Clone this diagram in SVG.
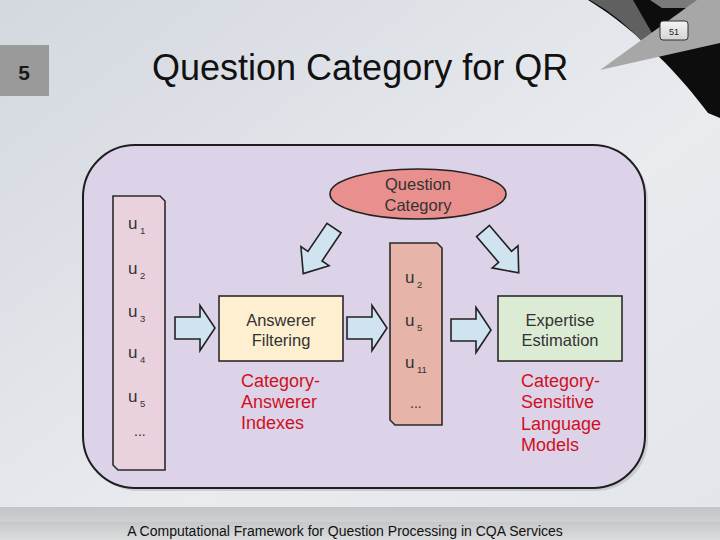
<svg xmlns="http://www.w3.org/2000/svg" width="720" height="540" viewBox="0 0 720 540">
<defs>
<linearGradient id="bg" x1="0" y1="0" x2="1" y2="1">
<stop offset="0" stop-color="#d3d8df"/>
<stop offset="0.6" stop-color="#e9ebef"/>
<stop offset="1" stop-color="#e2e5ea"/>
</linearGradient>
<linearGradient id="band" x1="0" y1="0" x2="0" y2="1">
<stop offset="0" stop-color="#c3c4c6"/>
<stop offset="1" stop-color="#cfd0d2"/>
</linearGradient>
<linearGradient id="foot" x1="0" y1="0" x2="0" y2="1">
<stop offset="0" stop-color="#c6c7c9"/>
<stop offset="1" stop-color="#dcdddf"/>
</linearGradient>
<linearGradient id="pn" x1="0" y1="0" x2="0" y2="1">
<stop offset="0" stop-color="#f4f4f4"/>
<stop offset="1" stop-color="#d4d4d4"/>
</linearGradient>
<path id="harrow" d="M0,-11 L25,-11 L25,-22.5 L40,0 L25,22.5 L25,11 L0,11 Z"/>
<path id="darrow" d="M0,-8.5 L34,-8.5 L34,-17 L55,0 L34,17 L34,8.5 L0,8.5 Z"/>
</defs>
<style>
text{font-family:"Liberation Sans",Arial,sans-serif}
.box{stroke:#2a2a2a;stroke-width:1.6}
.arr{fill:#cfe3f1;stroke:#222;stroke-width:1.6;stroke-linejoin:miter}
.lbl{font-size:16.5px;fill:#333;text-anchor:middle}
.u{font-size:17px;fill:#333}
.sub{font-size:9.5px;fill:#333}
.red{font-size:18px;fill:#d0101e}
</style>

<!-- background -->
<rect width="720" height="540" fill="url(#bg)"/>
<rect x="0" y="507" width="720" height="15" fill="url(#band)"/>
<rect x="0" y="522" width="720" height="18" fill="url(#foot)"/>

<!-- top-right decoration -->
<path d="M588,0 L720,0 L720,118 L708,113 C682,78 640,32 588,0 Z" fill="#0d0d0d"/>
<path d="M590,0 L633,0 L656,40 L645,45 Q622,18 590,0 Z" fill="#606060"/>
<path d="M650,0 L700,0 L690,8 L662,8 Z" fill="#7a7a7a"/>
<path d="M600,70 L697,0 L720,0 L720,43 Z" fill="#a7a7a7"/>
<rect x="660" y="21" width="28" height="19" rx="3" fill="url(#pn)" stroke="#333" stroke-width="1"/>
<text x="674" y="34.5" font-size="9" text-anchor="middle" fill="#222">51</text>

<!-- section number -->
<rect x="0" y="45" width="49" height="51" fill="#9a9a9a"/>
<text x="24" y="80" font-size="21" font-weight="bold" text-anchor="middle" fill="#1a1a1a">5</text>

<!-- title -->
<text x="152" y="80" font-size="36" fill="#111">Question Category for QR</text>

<!-- main panel -->
<g id="panel">
<rect x="86" y="148" width="562" height="343" rx="52" fill="#9a9aa0" opacity="0.35"/>
<rect x="83" y="145" width="562" height="343" rx="52" fill="#dcd3e9" stroke="#1e1e1e" stroke-width="2"/>
</g>

<!-- user list -->
<g id="userlist">
<path class="box" d="M113,196 L160,196 L165,201 L165,470 L118,470 L113,465 Z" fill="#e9d2de"/>
<text class="u" x="128" y="229">u</text><text class="sub" x="140" y="234">1</text>
<text class="u" x="128" y="274">u</text><text class="sub" x="140" y="279">2</text>
<text class="u" x="128" y="317">u</text><text class="sub" x="140" y="322">3</text>
<text class="u" x="128" y="358">u</text><text class="sub" x="140" y="363">4</text>
<text class="u" x="128" y="402">u</text><text class="sub" x="140" y="407">5</text>
<text class="u" x="134" y="436" style="font-size:14px">...</text>
</g>

<!-- question category -->
<g id="qcat">
<ellipse cx="418" cy="194" rx="88" ry="25" fill="#e98f8d" stroke="#222" stroke-width="1.6"/>
<text class="lbl" x="418" y="190">Question</text>
<text class="lbl" x="418" y="211">Category</text>
</g>

<!-- answerer filtering -->
<g id="filter">
<rect class="box" x="219" y="296" width="124" height="65" fill="#fdefcf"/>
<text class="lbl" x="281" y="326">Answerer</text>
<text class="lbl" x="281" y="346">Filtering</text>
</g>

<!-- filtered list -->
<g id="filtered">
<path class="box" d="M390,243 L437,243 L442,248 L442,425 L395,425 L390,420 Z" fill="#e6b4a9"/>
<text class="u" x="405" y="283">u</text><text class="sub" x="417" y="288">2</text>
<text class="u" x="405" y="326">u</text><text class="sub" x="417" y="331">5</text>
<text class="u" x="405" y="368">u</text><text class="sub" x="417" y="373">11</text>
<text class="u" x="410" y="408" style="font-size:14px">...</text>
</g>

<!-- expertise estimation -->
<g id="expertise">
<rect class="box" x="498" y="296" width="124" height="65" fill="#dcecd4"/>
<text class="lbl" x="560" y="326">Expertise</text>
<text class="lbl" x="560" y="346">Estimation</text>
</g>

<!-- red labels -->
<g id="indexes">
<text class="red" x="241" y="387">Category-</text>
<text class="red" x="241" y="408">Answerer</text>
<text class="red" x="241" y="429">Indexes</text>
</g>
<g id="models">
<text class="red" x="521" y="387">Category-</text>
<text class="red" x="521" y="408">Sensitive</text>
<text class="red" x="521" y="430">Language</text>
<text class="red" x="521" y="451">Models</text>
</g>

<!-- connectors -->
<g id="connectors">
<use href="#harrow" class="arr" transform="translate(175,328)"/>
<use href="#harrow" class="arr" transform="translate(347,328)"/>
<use href="#harrow" class="arr" transform="translate(451,330)"/>
<use href="#darrow" class="arr" transform="translate(334,228) rotate(124)"/>
<use href="#darrow" class="arr" transform="translate(483,231) rotate(49.5)"/>
</g>

<!-- footer -->
<text x="345" y="536" font-size="14" text-anchor="middle" fill="#111">A Computational Framework for Question Processing in CQA Services</text>
</svg>
